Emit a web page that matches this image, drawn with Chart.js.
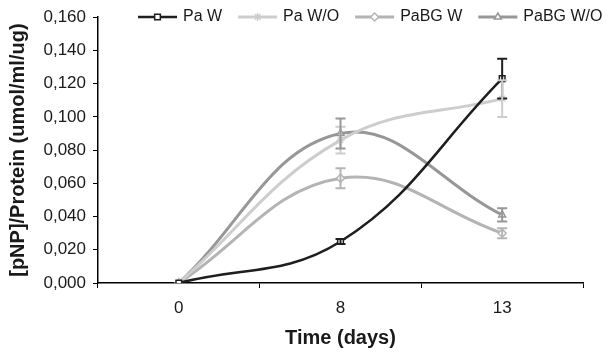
<!DOCTYPE html>
<html>
<head>
<meta charset="utf-8">
<script src="https://cdn.jsdelivr.net/npm/chart.js@4/dist/chart.umd.min.js"></script>
<style>
  body { margin: 0; background: #fff; }
  canvas { display: block; }
</style>
</head>
<body>
<canvas id="chart" width="608" height="354"></canvas>
<script>
// days on the x axis
const days = ['0', '8', '13'];

// [pNP]/Protein values
const paW = [0, 0.025, 0.123];
const paWO = [0, 0.086, 0.111];
const pabgW = [0, 0.063, 0.030];
const pabgWO = [0, 0.090, 0.041];

// error bars (+/-)
const paWErr = [0, 0.0015, 0.012];
const paWOErr = [0, 0.008, 0.011];
const pabgWErr = [0, 0.006, 0.003];
const pabgWOErr = [0, 0.009, 0.004];

const seriesNames = ['Pa W', 'Pa W/O', 'PaBG W', 'PaBG W/O'];

const FONT = "'Liberation Sans', Arial, Helvetica, sans-serif";
const TEXT = '#1a1a1a';

// draws the +/- bars for every point that has one
const errorBars = {
  id: 'errorBars',
  afterDatasetsDraw(chart) {
    const ctx = chart.ctx;
    const y = chart.scales.y;
    chart.data.datasets.forEach((ds, di) => {
      const meta = chart.getDatasetMeta(di);
      ctx.save();
      ctx.strokeStyle = ds.borderColor;
      ctx.lineWidth = 2;
      meta.data.forEach((pt, i) => {
        const e = ds.errors[i];
        if (!e) return;
        const top = y.getPixelForValue(ds.data[i] + e);
        const bot = y.getPixelForValue(ds.data[i] - e);
        ctx.beginPath();
        ctx.moveTo(pt.x, top); ctx.lineTo(pt.x, bot);
        ctx.moveTo(pt.x - 5, top); ctx.lineTo(pt.x + 5, top);
        ctx.moveTo(pt.x - 5, bot); ctx.lineTo(pt.x + 5, bot);
        ctx.stroke();
      });
      ctx.restore();
    });
  }
};

// excel style legend: short line with the marker in the middle
const lineLegend = {
  id: 'lineLegend',
  afterDraw(chart) {
    const ctx = chart.ctx;
    let x = 138;
    const yc = 17;
    ctx.save();
    ctx.font = '16px ' + FONT;
    ctx.textBaseline = 'middle';
    chart.data.datasets.forEach(ds => {
      ctx.strokeStyle = ds.borderColor;
      ctx.lineWidth = ds.borderWidth;
      ctx.beginPath();
      ctx.moveTo(x, yc); ctx.lineTo(x + 39, yc);
      ctx.stroke();
      ctx.lineWidth = 1.5;
      ctx.fillStyle = '#fff';
      Chart.helpers.drawPoint(ctx, {
        pointStyle: ds.pointStyle, radius: 4, borderWidth: 1.5
      }, x + 19.5, yc);
      ctx.fillStyle = TEXT;
      ctx.fillText(ds.label, x + 45, yc);
      x += 45 + ctx.measureText(ds.label).width + 16;
    });
    ctx.restore();
  }
};

function series(label, data, errors, color, style, width) {
  return {
    label: label,
    data: data,
    errors: errors,
    borderColor: color,
    backgroundColor: '#fff',
    borderWidth: width,
    pointStyle: style,
    pointRadius: 4,
    pointBorderWidth: 1.5,
    pointBorderColor: color,
    pointBackgroundColor: '#fff',
    tension: 0.4
  };
}

new Chart(document.getElementById('chart'), {
  type: 'line',
  data: {
    labels: days,
    datasets: [
      series(seriesNames[0], paW, paWErr, '#1e1e1e', 'rect', 2.5),
      series(seriesNames[1], paWO, paWOErr, '#cdcdcd', 'star', 3),
      series(seriesNames[2], pabgW, pabgWErr, '#b4b4b4', 'rectRot', 3),
      series(seriesNames[3], pabgWO, pabgWOErr, '#979797', 'triangle', 3)
    ]
  },
  options: {
    responsive: false,
    animation: false,
    layout: { padding: { top: 15, right: 25, left: 0, bottom: 0 } },
    plugins: { legend: { display: false }, tooltip: { enabled: false } },
    scales: {
      x: {
        type: 'category',
        offset: true,
        grid: { offset: true, drawOnChartArea: false, drawTicks: true, tickLength: 5, color: '#000', lineWidth: 1 },
        border: { color: '#000', width: 1.5 },
        ticks: { color: TEXT, font: { family: FONT, size: 17 }, padding: 10 },
        title: { display: true, text: 'Time (days)', color: TEXT, font: { family: FONT, size: 20, weight: 'bold' }, padding: { top: 0, bottom: 4 } },
        afterFit(axis) { axis.height = 71; }
      },
      y: {
        min: 0,
        max: 0.16,
        ticks: {
          stepSize: 0.02,
          color: TEXT,
          font: { family: FONT, size: 17 },
          padding: 7,
          callback: v => v.toFixed(3).replace('.', ',')
        },
        grid: { drawOnChartArea: false, drawTicks: true, tickLength: 5, color: '#000' },
        border: { color: '#000', width: 1.5 },
        title: { display: true, text: '[pNP]/Protein (umol/ml/ug)', color: TEXT, font: { family: FONT, size: 20, weight: 'bold' }, padding: { top: 6, bottom: 0 } },
        afterFit(axis) { axis.width = 98; }
      }
    }
  },
  plugins: [errorBars, lineLegend]
});
</script>
</body>
</html>
